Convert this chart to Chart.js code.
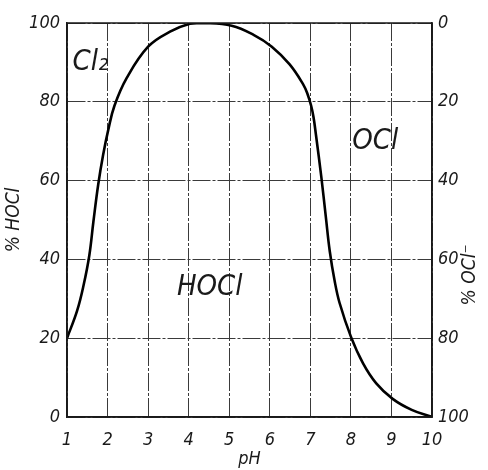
<!DOCTYPE html>
<html>
<head>
<meta charset="utf-8">
<script src="https://cdn.jsdelivr.net/npm/chart.js@4.4.1/dist/chart.umd.min.js"></script>
<style>
  html, body { margin: 0; padding: 0; background: #fff; }
  #wrap { width: 488px; height: 470px; }
</style>
</head>
<body>
<div id="wrap"><canvas id="phChart" width="488" height="470"></canvas></div>
<script>
// HOCl share vs pH
const phValues = [1, 1.25, 1.41, 1.55, 1.65, 1.77, 1.89, 2.02, 2.17, 2.47, 3.0, 3.54, 4.03, 4.4, 5.06, 5.6, 6.05, 6.49, 6.82, 6.93, 7.02, 7.08, 7.14, 7.27, 7.38, 7.48, 7.6, 7.72, 8.0, 8.3, 8.62, 9.03, 9.5, 10];
const hoclValues = [20, 27, 33.5, 41, 49.5, 59, 66.5, 73, 79, 86, 94, 97.8, 99.8, 100, 99.3, 97, 94, 89.5, 84.5, 82, 79, 76, 71.5, 61, 51, 42, 34.5, 29, 20.4, 13.6, 8.6, 4.6, 1.8, 0];
const xTicks = [1, 2, 3, 4, 5, 6, 7, 8, 9, 10];
const yTicks = [0, 20, 40, 60, 80, 100];
const regionLabels = ['Cl₂', 'HOCl', 'OCl'];
const regionX = [1.58, 4.52, 8.6];
const regionY = [90, 33, 70];

const FONT = '"Liberation Sans Narrow", "DejaVu Sans Condensed", sans-serif';
const INK = '#1a1a1a';

const points = phValues.map((ph, i) => ({ x: ph, y: hoclValues[i] }));

const decorPlugin = {
    id: 'decor',
    afterDatasetsDraw(chart) {
        const { ctx, chartArea, scales } = chart;
        ctx.save();
        // frame
        ctx.strokeStyle = INK;
        ctx.lineWidth = 1.5;
        ctx.setLineDash([]);
        ctx.strokeRect(chartArea.left, chartArea.top, chartArea.right - chartArea.left, chartArea.bottom - chartArea.top);

        // region labels
        ctx.fillStyle = INK;
        ctx.font = 'italic 29px ' + FONT;
        ctx.textAlign = 'center';
        ctx.textBaseline = 'middle';
        regionLabels.forEach((txt, i) => {
            ctx.fillText(txt, scales.x.getPixelForValue(regionX[i]), scales.y.getPixelForValue(regionY[i]));
        });

        // right axis title, reads bottom to top like the left one
        ctx.font = 'italic 19px ' + FONT;
        ctx.translate(470, (chartArea.top + chartArea.bottom) / 2 + 55);
        ctx.rotate(-Math.PI / 2);
        ctx.fillText('% OCl⁻', 0, 0);
        ctx.restore();
    }
};

const gridStyle = {
    color: '#3a3a3a',
    lineWidth: 1,
    drawTicks: false,
    tickLength: 0
};

new Chart(document.getElementById('phChart').getContext('2d'), {
    type: 'line',
    data: {
        datasets: [{
            data: points,
            borderColor: '#000',
            borderWidth: 2.6,
            pointRadius: 0,
            fill: false,
            tension: 0.4
        }]
    },
    options: {
        responsive: false,
        animation: false,
        layout: { padding: { top: 23, left: 0, right: 0, bottom: 0 } },
        plugins: { legend: { display: false }, tooltip: { enabled: false } },
        scales: {
            x: {
                type: 'linear',
                min: 1,
                max: 10,
                afterBuildTicks: (axis) => { axis.ticks = xTicks.map(v => ({ value: v })); },
                afterFit: (axis) => { axis.height = 53; },
                grid: gridStyle,
                border: { display: true, color: INK, width: 1.5, dash: [18, 2, 3, 2] },
                ticks: { color: INK, padding: 13, font: { family: FONT, size: 18, style: 'italic' }, maxRotation: 0 },
                title: { display: true, text: 'pH', color: INK, padding: { top: 0, bottom: 0 }, font: { family: FONT, size: 18, style: 'italic' } }
            },
            y: {
                min: 0,
                max: 100,
                position: 'left',
                afterBuildTicks: (axis) => { axis.ticks = yTicks.map(v => ({ value: v })); },
                afterFit: (axis) => { axis.width = 67; },
                grid: Object.assign({}, gridStyle),
                border: { display: true, color: INK, width: 1.5, dash: [18, 2, 3, 2] },
                ticks: { color: INK, padding: 7, font: { family: FONT, size: 18, style: 'italic' } },
                title: { display: true, text: '% HOCl', color: INK, padding: { top: 3, bottom: 0 }, font: { family: FONT, size: 19, style: 'italic' } }
            },
            y2: {
                min: 0,
                max: 100,
                reverse: true,
                position: 'right',
                afterBuildTicks: (axis) => { axis.ticks = yTicks.map(v => ({ value: v })); },
                afterFit: (axis) => { axis.width = 56; },
                grid: { display: false, drawTicks: false, tickLength: 0 },
                border: { display: true, color: INK, width: 1.5 },
                ticks: { color: INK, padding: 6, font: { family: FONT, size: 18, style: 'italic' } }
            }
        }
    },
    plugins: [decorPlugin]
});
</script>
</body>
</html>
